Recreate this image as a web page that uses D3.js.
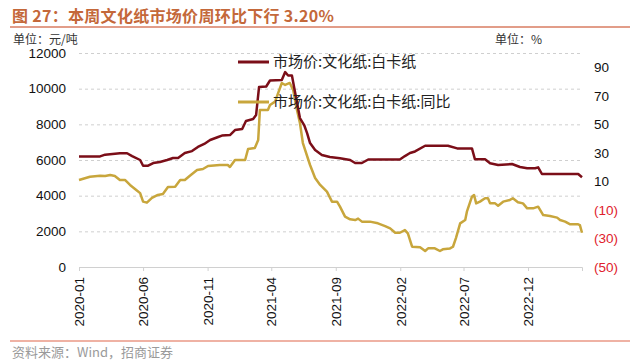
<!DOCTYPE html>
<html><head><meta charset="utf-8">
<script src="https://cdn.jsdelivr.net/npm/d3@7"></script>
<style>
html,body{margin:0;padding:0;background:#fff;}
svg{display:block;}
</style></head>
<body>
<svg id="chart" width="640" height="363"></svg>
<script>
// ---------- data ----------
const priceDates = ["2020-01-01","2020-02-20","2020-03-03","2020-04-07","2020-04-24","2020-05-06","2020-05-25","2020-06-01","2020-06-13","2020-06-25","2020-07-11","2020-07-28","2020-08-11","2020-08-23","2020-09-08","2020-09-25","2020-10-09","2020-10-24","2020-11-07","2020-11-26","2020-12-05","2020-12-24","2021-01-05","2021-01-22","2021-01-31","2021-02-17","2021-02-24","2021-03-03","2021-03-20","2021-03-29","2021-04-26","2021-05-04","2021-05-11","2021-05-20","2021-05-30","2021-06-08","2021-06-18","2021-06-25","2021-07-02","2021-07-14","2021-07-30","2021-08-18","2021-09-11","2021-10-05","2021-10-17","2021-11-02","2021-11-17","2022-01-31","2022-02-12","2022-02-24","2022-03-08","2022-04-01","2022-05-25","2022-06-16","2022-07-21","2022-07-28","2022-08-21","2022-09-02","2022-09-21","2022-10-24","2022-11-12","2022-11-29","2022-12-18","2022-12-25","2023-01-03","2023-03-30","2023-04-08"];
const priceValues = [6200,6200,6300,6380,6380,6220,6000,5680,5680,5830,5890,6000,6110,6110,6390,6500,6730,6900,7120,7290,7370,7400,7680,7740,8190,8300,8520,10090,10120,10460,10485,10930,10740,10740,9480,8350,7960,7510,6950,6560,6280,6170,6100,6000,5830,5830,6030,6030,6220,6390,6480,6800,6800,6650,6650,6040,6040,5815,5720,5775,5610,5535,5535,5590,5215,5215,5030];

const yoyDates = ["2020-01-01","2020-01-27","2020-02-20","2020-03-03","2020-03-15","2020-03-26","2020-04-07","2020-04-19","2020-05-01","2020-05-18","2020-05-25","2020-06-01","2020-06-10","2020-06-22","2020-07-06","2020-07-18","2020-07-30","2020-08-16","2020-08-28","2020-09-08","2020-09-20","2020-10-07","2020-10-21","2020-11-02","2020-11-30","2020-12-19","2020-12-24","2021-01-05","2021-01-29","2021-02-05","2021-02-21","2021-03-01","2021-03-05","2021-03-24","2021-03-29","2021-04-10","2021-04-26","2021-05-04","2021-05-15","2021-05-23","2021-06-01","2021-06-08","2021-06-15","2021-07-02","2021-07-14","2021-07-26","2021-08-11","2021-08-23","2021-09-04","2021-09-11","2021-09-23","2021-10-05","2021-10-17","2021-10-24","2021-11-02","2021-11-21","2021-12-10","2021-12-27","2022-01-08","2022-01-20","2022-01-31","2022-02-12","2022-02-19","2022-03-01","2022-03-20","2022-04-01","2022-04-08","2022-04-24","2022-05-06","2022-05-13","2022-05-30","2022-06-06","2022-06-13","2022-06-23","2022-07-05","2022-07-09","2022-07-21","2022-07-26","2022-07-31","2022-08-09","2022-08-21","2022-08-28","2022-09-02","2022-09-14","2022-09-21","2022-10-03","2022-10-19","2022-10-26","2022-11-07","2022-11-19","2022-11-29","2022-12-13","2022-12-25","2023-01-06","2023-01-22","2023-02-08","2023-02-15","2023-02-27","2023-03-11","2023-03-30","2023-04-03","2023-04-08"];
const yoyValues = [11.0,13.3,14.0,13.8,14.5,13.8,11.0,11.0,7.5,3.5,1.8,-4.2,-4.9,-1.6,0.5,1.2,6.1,6.3,11.0,11.0,14.0,18.0,18.7,20.8,21.5,21.5,20.1,25.0,25.0,32.7,33.4,39.0,60.0,60.0,63.5,65.9,79.0,77.6,79.0,74.1,60.0,50.9,36.9,21.5,12.4,7.5,2.8,-4.2,-4.2,-7.7,-14.7,-16.6,-17.1,-16.1,-18.2,-18.2,-19.4,-21.3,-22.9,-26.0,-26.0,-24.1,-26.4,-35.8,-36.2,-38.8,-36.9,-36.9,-38.8,-37.6,-37.0,-35.8,-29.7,-19.4,-17.1,-11.2,-0.7,0.5,-5.4,-4.2,-1.8,-1.8,-5.4,-5.4,-7.0,-4.2,-3.0,-1.8,-4.6,-5.4,-8.9,-8.9,-7.7,-13.6,-14.3,-15.4,-17.1,-18.2,-20.1,-20.1,-20.6,-26.0];

const xTickLabels = ["2020-01","2020-06","2020-11","2021-04","2021-09","2022-02","2022-07","2022-12"];
const leftTicks = [0,2000,4000,6000,8000,10000,12000];
const rightTicks = [-50,-30,-10,10,30,50,70,90];
const seriesNames = ["市场价:文化纸:白卡纸","市场价:文化纸:白卡纸:同比"];
const titleText = "图 27：本周文化纸市场价周环比下行 3.20%";
const sourceText = "资料来源：Wind，招商证券";

// ---------- chart ----------
const parse = d3.timeParse("%Y-%m-%d");
const parseM = d3.timeParse("%Y-%m");
const svg = d3.select("#chart");
const plot = {l:79, r:582, t:53, b:267};
const cPrice = "#7B0E18", cYoy = "#C8A63C";
const numFont = "'Liberation Sans', Arial, sans-serif";
const cjkFont = "'Noto Sans CJK SC', sans-serif";

const x = d3.scaleTime().domain([parse("2020-01-01"), parse("2023-04-08")]).range([plot.l, plot.r]);
const yL = d3.scaleLinear().domain([0,12000]).range([plot.b, plot.t]);
const yR = d3.scaleLinear().domain([-50,100]).range([plot.b, plot.t]);

// title
svg.append("text").attr("x",12).attr("y",22)
  .attr("font-family",cjkFont).attr("font-size",16).attr("font-weight",600)
  .attr("letter-spacing",0.3)
  .attr("fill","#C4683A").text(titleText);
svg.append("line").attr("x1",10).attr("x2",630).attr("y1",27).attr("y2",27)
  .attr("stroke","#D97C62").attr("stroke-width",1.5);

// units
svg.append("text").attr("x",13).attr("y",44).attr("font-family",cjkFont)
  .attr("font-size",12).attr("fill","#333").text("单位：元/吨");
svg.append("text").attr("x",495).attr("y",44).attr("font-family",cjkFont)
  .attr("font-size",12).attr("fill","#333").text("单位：%");

// gridlines
svg.append("g").selectAll("line").data(leftTicks.filter(d=>d>0)).join("line")
  .attr("x1",plot.l).attr("x2",plot.r)
  .attr("y1",d=>yL(d)+0.5).attr("y2",d=>yL(d)+0.5)
  .attr("stroke","#cfcfcf").attr("stroke-dasharray","3,3").attr("stroke-width",1);

// x axis
const xAxis = d3.axisBottom(x).tickValues(xTickLabels.map(parseM)).tickSize(4).tickFormat(d3.timeFormat("%Y-%m"));
const gx = svg.append("g").attr("transform",`translate(0,${plot.b})`).call(xAxis);
gx.select(".domain").attr("stroke","#d0d0d0");
gx.selectAll(".tick line").attr("stroke","#d0d0d0");
gx.selectAll(".tick text")
  .attr("font-family",numFont).attr("font-size",13.5).attr("fill","#111")
  .attr("transform","rotate(-90)").attr("text-anchor","end")
  .attr("x",-10).attr("y",0).attr("dy","0.35em");

// left axis
const gl = svg.append("g").attr("transform",`translate(66,0)`)
  .call(d3.axisLeft(yL).tickValues(leftTicks).tickSize(0).tickPadding(0).tickFormat(d3.format("d")));
gl.select(".domain").remove();
gl.selectAll(".tick text").attr("font-family",numFont).attr("font-size",13.5).attr("fill","#111");

// right axis
const gr = svg.append("g").attr("transform",`translate(594,0)`)
  .call(d3.axisRight(yR).tickValues(rightTicks).tickSize(0).tickPadding(0)
    .tickFormat(d => d < 0 ? `(${Math.abs(d)})` : `${d}`));
gr.select(".domain").remove();
gr.selectAll(".tick text").attr("font-family",numFont).attr("font-size",13.5)
  .attr("fill", d => d < 0 ? "#E0202B" : "#111");

// lines
const priceData = priceDates.map((d,i)=>({date:parse(d), v:priceValues[i]}));
const yoyData = yoyDates.map((d,i)=>({date:parse(d), v:yoyValues[i]}));
svg.append("path").datum(yoyData)
  .attr("d", d3.line().x(d=>x(d.date)).y(d=>yR(d.v)))
  .attr("fill","none").attr("stroke",cYoy).attr("stroke-width",2.5).attr("stroke-linejoin","round");
svg.append("path").datum(priceData)
  .attr("d", d3.line().x(d=>x(d.date)).y(d=>yL(d.v)))
  .attr("fill","none").attr("stroke",cPrice).attr("stroke-width",2.5).attr("stroke-linejoin","round");

// legend
const leg = [{name:seriesNames[0], c:cPrice, y:62},{name:seriesNames[1], c:cYoy, y:102}];
const lg = svg.append("g");
leg.forEach(l=>{
  lg.append("line").attr("x1",238).attr("x2",269).attr("y1",l.y).attr("y2",l.y)
    .attr("stroke",l.c).attr("stroke-width",3);
  lg.append("text").attr("x",273).attr("y",l.y).attr("dy","0.36em")
    .attr("font-family",cjkFont).attr("font-size",15).attr("fill","#222").text(l.name);
});

// bottom line & source
svg.append("line").attr("x1",10).attr("x2",630).attr("y1",341).attr("y2",341)
  .attr("stroke","#E0664A").attr("stroke-width",1.2);
svg.append("text").attr("x",12).attr("y",357).attr("font-family",cjkFont)
  .attr("font-size",13).attr("fill","#9a9a9a").text(sourceText);
</script>
</body></html>
